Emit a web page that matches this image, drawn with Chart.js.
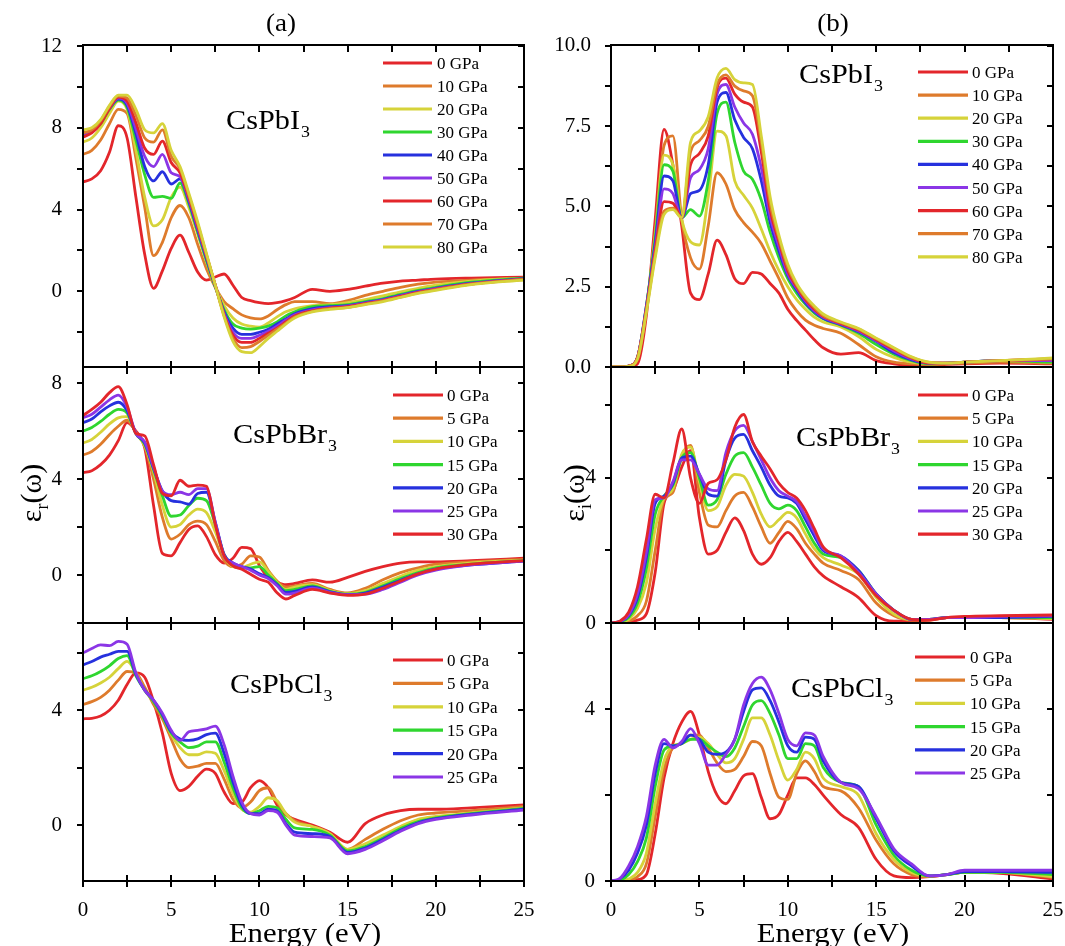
<!DOCTYPE html>
<html>
<head>
<meta charset="utf-8">
<script src="https://cdn.jsdelivr.net/npm/chart.js@4.4.1/dist/chart.umd.min.js"></script>
<style>
  html, body { margin: 0; padding: 0; background: #fff; }
  #wrap { position: relative; width: 1065px; height: 946px; }
  #wrap canvas { position: absolute; left: 0; top: 0; }
</style>
</head>
<body>
<div id="wrap">
  <canvas id="c1" width="1065" height="946"></canvas>
  <canvas id="c2" width="1065" height="946"></canvas>
  <canvas id="c3" width="1065" height="946"></canvas>
  <canvas id="c4" width="1065" height="946"></canvas>
  <canvas id="c5" width="1065" height="946"></canvas>
  <canvas id="c6" width="1065" height="946"></canvas>
</div>
<script>
// photon energy grid (eV), shared by every curve
const energy = [0,0.5,1,1.5,2,2.5,3,3.5,4,4.5,5,5.5,6,6.5,7,7.5,8,8.5,9,9.5,10,10.5,11,11.5,12,13,14,15,16,17,18,19,20,22,25]
const energyTicks = [0,2.5,5,7.5,10,12.5,15,17.5,20,22.5,25]

const pressuresI = ["0 GPa","10 GPa","20 GPa","30 GPa","40 GPa","50 GPa","60 GPa","70 GPa","80 GPa"]
const pressuresBr = ["0 GPa","5 GPa","10 GPa","15 GPa","20 GPa","25 GPa","30 GPa"]
const pressuresCl = ["0 GPa","5 GPa","10 GPa","15 GPa","20 GPa","25 GPa"]

// (a) real part, CsPbI3
const realI = [
  [5.36,5.5,5.9,6.8,8.1,7.5,4.6,1.8,0.15,1.0,2.1,2.75,1.9,0.95,0.55,0.7,0.85,0.3,-0.3,-0.45,-0.55,-0.6,-0.55,-0.45,-0.3,0.1,0.0,0.1,0.25,0.4,0.5,0.55,0.6,0.65,0.7],
  [6.7,6.9,7.4,8.2,8.9,8.7,6.5,4.1,1.75,2.4,3.6,4.2,3.6,2.3,1.1,0.2,-0.5,-0.85,-1.15,-1.3,-1.35,-1.2,-0.9,-0.65,-0.5,-0.5,-0.6,-0.45,-0.2,0.0,0.2,0.35,0.45,0.55,0.65],
  [7.3,7.5,8.0,8.7,9.3,8.9,6.9,4.6,3.2,3.5,4.6,5.1,4.1,2.8,1.45,0.25,-0.7,-1.3,-1.6,-1.7,-1.75,-1.55,-1.25,-1.0,-0.85,-0.7,-0.65,-0.55,-0.4,-0.22,-0.02,0.15,0.3,0.5,0.65],
  [7.65,7.8,8.2,8.9,9.35,9.0,7.4,5.7,4.6,4.65,4.55,5.3,4.3,2.9,1.5,0.2,-0.9,-1.6,-1.8,-1.85,-1.8,-1.7,-1.5,-1.2,-1.0,-0.75,-0.7,-0.65,-0.5,-0.35,-0.15,0.05,0.2,0.45,0.65],
  [7.7,7.85,8.3,8.95,9.4,9.1,7.7,6.1,5.4,5.85,5.25,5.5,4.4,3.0,1.6,0.25,-1.0,-1.8,-2.1,-2.1,-2.0,-1.85,-1.6,-1.35,-1.1,-0.85,-0.75,-0.7,-0.55,-0.4,-0.2,0.0,0.15,0.4,0.62],
  [7.6,7.8,8.25,8.95,9.45,9.2,7.95,6.6,6.1,6.7,5.8,5.6,4.5,3.1,1.7,0.3,-1.1,-2.0,-2.3,-2.3,-2.15,-1.95,-1.7,-1.4,-1.15,-0.9,-0.8,-0.72,-0.58,-0.42,-0.22,-0.02,0.13,0.38,0.6],
  [7.55,7.75,8.2,8.95,9.5,9.3,8.25,7.0,6.7,7.35,6.3,5.8,4.6,3.2,1.75,0.3,-1.15,-2.15,-2.5,-2.5,-2.3,-2.05,-1.8,-1.5,-1.2,-0.95,-0.82,-0.75,-0.6,-0.45,-0.25,-0.05,0.1,0.36,0.6],
  [7.75,7.9,8.35,9.05,9.55,9.45,8.6,7.5,7.3,7.9,6.6,6.0,4.7,3.3,1.8,0.3,-1.2,-2.3,-2.75,-2.7,-2.45,-2.15,-1.85,-1.55,-1.25,-0.98,-0.85,-0.78,-0.62,-0.47,-0.28,-0.08,0.08,0.35,0.58],
  [7.9,8.0,8.4,9.1,9.6,9.6,8.9,7.9,7.75,8.2,6.9,6.1,4.8,3.4,1.85,0.3,-1.25,-2.45,-2.95,-3.0,-2.7,-2.3,-1.95,-1.6,-1.3,-1.0,-0.88,-0.8,-0.65,-0.5,-0.3,-0.1,0.05,0.33,0.55]
]

// (b) imaginary part, CsPbI3
const imagI = [
  [0,0,0,0.1,1.6,4.6,7.4,6.3,4.4,2.3,2.1,2.9,3.95,3.5,2.75,2.6,2.95,2.9,2.6,2.3,1.8,1.45,1.15,0.85,0.6,0.4,0.45,0.2,0.1,0.05,0.05,0.08,0.1,0.12,0.1],
  [0,0,0.02,0.25,1.8,4.2,6.9,7.2,4.6,3.4,3.05,4.4,6.05,5.7,4.9,4.5,4.2,3.85,3.3,2.75,2.15,1.75,1.46,1.3,1.2,1.05,0.7,0.32,0.15,0.1,0.08,0.1,0.12,0.15,0.12],
  [0,0,0.03,0.3,1.85,4.1,6.6,6.3,4.6,3.9,3.8,5.3,7.35,7.2,5.8,5.35,4.95,4.3,3.6,3.0,2.5,2.1,1.8,1.55,1.4,1.25,0.95,0.55,0.3,0.15,0.1,0.12,0.15,0.2,0.15],
  [0,0,0.03,0.3,1.9,4.0,6.3,6.1,4.65,4.9,4.7,5.8,7.9,8.25,7.0,6.1,5.85,5.2,4.2,3.4,2.75,2.3,1.95,1.68,1.5,1.3,1.05,0.7,0.4,0.2,0.1,0.12,0.15,0.2,0.15],
  [0,0,0.03,0.3,1.9,3.85,5.95,5.8,4.65,5.4,5.5,6.3,8.25,8.55,7.7,7.15,6.8,5.8,4.5,3.6,2.85,2.4,2.0,1.72,1.52,1.32,1.1,0.8,0.45,0.22,0.12,0.12,0.15,0.2,0.2],
  [0,0,0.03,0.3,1.85,3.7,5.55,5.4,4.65,5.9,6.15,6.8,8.5,8.8,8.1,7.6,7.25,6.2,4.7,3.75,2.9,2.45,2.05,1.75,1.55,1.34,1.12,0.82,0.5,0.25,0.12,0.12,0.15,0.2,0.2],
  [0,0,0.03,0.3,1.8,3.6,5.15,5.1,4.65,6.3,6.65,7.2,8.7,9.0,8.5,8.25,8.1,6.7,4.9,3.9,3.0,2.5,2.1,1.8,1.58,1.36,1.15,0.85,0.55,0.28,0.12,0.12,0.15,0.2,0.25],
  [0,0,0.03,0.28,1.75,3.5,4.85,4.95,4.65,6.7,7.05,7.5,8.8,9.1,8.75,8.6,8.45,7.0,5.1,4.0,3.1,2.55,2.15,1.85,1.6,1.38,1.18,0.88,0.58,0.3,0.14,0.12,0.15,0.2,0.25],
  [0,0,0.02,0.25,1.7,3.4,4.75,4.9,4.65,7.0,7.35,7.8,9.0,9.3,8.95,8.85,8.8,7.2,5.3,4.1,3.2,2.6,2.2,1.9,1.65,1.4,1.2,0.9,0.6,0.32,0.15,0.12,0.15,0.2,0.28]
]

// real part, CsPbBr3
const realBr = [
  [4.26,4.35,4.6,5.0,5.6,6.35,6.0,5.3,2.9,0.9,0.8,1.35,1.9,2.05,1.6,0.85,0.5,0.7,1.15,1.1,0.4,-0.1,-0.3,-0.4,-0.35,-0.2,-0.3,-0.1,0.15,0.35,0.5,0.55,0.55,0.6,0.7],
  [5.0,5.15,5.45,5.85,6.2,6.45,5.95,5.35,4.0,2.4,1.5,1.7,2.1,2.25,2.1,1.4,0.6,0.35,0.45,0.8,0.75,0.2,-0.25,-0.5,-0.45,-0.35,-0.6,-0.75,-0.55,-0.2,0.1,0.3,0.45,0.55,0.65],
  [5.5,5.65,5.95,6.3,6.55,6.6,5.9,5.4,4.3,2.9,2.0,2.1,2.5,2.75,2.6,1.8,0.8,0.35,0.3,0.45,0.55,0.15,-0.3,-0.6,-0.5,-0.4,-0.65,-0.78,-0.65,-0.35,-0.05,0.2,0.35,0.5,0.62],
  [6.0,6.15,6.4,6.7,6.9,6.75,5.9,5.45,4.4,3.3,2.45,2.5,2.9,3.2,3.1,2.1,0.85,0.4,0.3,0.3,0.35,0.0,-0.35,-0.65,-0.6,-0.45,-0.68,-0.8,-0.72,-0.45,-0.15,0.1,0.3,0.45,0.6],
  [6.35,6.5,6.8,7.05,7.2,6.85,5.9,5.5,4.45,3.5,3.1,3.05,2.95,3.4,3.45,2.2,0.85,0.5,0.35,0.25,0.05,-0.1,-0.4,-0.72,-0.68,-0.5,-0.7,-0.82,-0.75,-0.5,-0.22,0.05,0.25,0.42,0.58],
  [6.55,6.7,7.0,7.3,7.5,7.0,5.9,5.55,4.5,3.5,3.35,3.45,3.35,3.6,3.6,2.2,0.8,0.5,0.35,0.2,0.0,-0.15,-0.45,-0.8,-0.75,-0.55,-0.72,-0.82,-0.8,-0.6,-0.3,0.0,0.2,0.42,0.58],
  [6.65,6.9,7.2,7.6,7.85,7.1,5.9,5.8,4.6,3.4,3.3,3.95,3.7,3.75,3.7,2.1,0.8,0.38,0.24,0.03,-0.18,-0.3,-0.74,-1.0,-0.85,-0.6,-0.75,-0.85,-0.8,-0.55,-0.25,0.05,0.25,0.45,0.6]
]

// imaginary part, CsPbBr3
const imagBr = [
  [0,0,0.02,0.08,0.25,1.4,3.3,3.65,4.3,4.75,2.9,1.9,2.0,2.5,2.9,2.55,1.9,1.62,1.8,2.25,2.5,2.25,1.9,1.55,1.3,1.0,0.7,0.2,0.05,0.05,0.08,0.15,0.15,0.15,0.1],
  [0,0,0.05,0.2,0.6,2.0,3.4,3.6,4.6,4.9,3.6,2.7,2.65,3.1,3.5,3.6,3.2,2.65,2.2,2.5,2.8,2.6,2.2,1.9,1.65,1.45,1.2,0.55,0.2,0.08,0.08,0.15,0.15,0.15,0.12],
  [0,0.02,0.1,0.4,1.1,2.6,3.45,3.7,4.65,4.85,3.9,3.1,3.2,3.8,4.1,4.05,3.6,3.0,2.65,2.85,3.05,2.9,2.45,2.05,1.8,1.6,1.35,0.7,0.25,0.1,0.1,0.15,0.15,0.15,0.12],
  [0,0.03,0.15,0.55,1.5,3.0,3.5,3.8,4.55,4.7,4.0,3.25,3.4,4.1,4.6,4.7,4.3,3.8,3.3,3.15,3.25,3.1,2.65,2.2,1.9,1.8,1.45,0.8,0.35,0.1,0.1,0.15,0.15,0.15,0.15],
  [0,0.04,0.2,0.7,1.8,3.3,3.5,3.85,4.55,4.6,4.1,3.55,3.5,4.5,5.1,5.2,4.75,4.3,3.8,3.5,3.45,3.3,2.85,2.4,2.0,1.85,1.45,0.8,0.35,0.1,0.1,0.15,0.15,0.15,0.18],
  [0,0.04,0.22,0.8,1.95,3.4,3.45,3.9,4.5,4.5,4.1,3.7,3.65,4.7,5.3,5.45,5.0,4.5,4.0,3.65,3.5,3.35,2.95,2.5,2.05,1.85,1.4,0.8,0.35,0.1,0.1,0.15,0.15,0.18,0.2],
  [0,0.05,0.3,1.0,2.3,3.55,3.45,4.4,5.35,4.0,3.3,3.85,3.95,4.5,5.4,5.75,5.0,4.6,4.25,3.85,3.6,3.45,3.1,2.6,2.1,1.8,1.35,0.75,0.35,0.1,0.08,0.15,0.18,0.2,0.22]
]

// real part, CsPbCl3
const realCl = [
  [3.7,3.72,3.8,4.0,4.35,4.9,5.3,5.15,4.3,3.2,1.8,1.2,1.35,1.7,1.95,1.8,1.15,0.75,0.8,1.3,1.55,1.3,0.7,0.35,0.2,0.0,-0.25,-0.6,0.05,0.35,0.5,0.55,0.55,0.6,0.7],
  [4.2,4.3,4.45,4.7,5.05,5.35,5.3,4.8,4.2,3.7,3.0,2.3,2.0,2.05,2.15,2.15,1.6,0.9,0.6,0.8,1.2,1.3,0.8,0.4,0.15,-0.05,-0.35,-0.85,-0.5,-0.15,0.15,0.35,0.42,0.5,0.65],
  [4.7,4.8,4.95,5.15,5.45,5.7,5.3,4.7,4.3,3.8,3.15,2.7,2.45,2.45,2.55,2.5,1.9,1.1,0.55,0.45,0.65,0.95,0.85,0.4,0.1,-0.05,-0.3,-0.85,-0.65,-0.35,-0.05,0.2,0.3,0.42,0.6],
  [5.1,5.2,5.35,5.55,5.8,5.9,5.2,4.7,4.3,3.8,3.2,2.9,2.7,2.75,2.9,2.9,2.2,1.3,0.6,0.4,0.5,0.65,0.6,0.2,-0.1,-0.15,-0.35,-0.9,-0.75,-0.45,-0.12,0.12,0.25,0.4,0.58],
  [5.58,5.7,5.85,5.95,6.05,6.05,5.25,4.7,4.35,3.85,3.25,3.0,2.95,3.0,3.15,3.2,2.5,1.5,0.7,0.4,0.4,0.55,0.5,0.05,-0.25,-0.3,-0.4,-0.95,-0.8,-0.5,-0.18,0.08,0.22,0.38,0.55],
  [6.0,6.15,6.28,6.25,6.4,6.3,5.3,4.7,4.35,3.9,3.3,2.95,3.25,3.3,3.35,3.45,2.8,1.7,0.8,0.4,0.35,0.5,0.45,0.0,-0.35,-0.4,-0.45,-1.0,-0.85,-0.55,-0.22,0.05,0.2,0.35,0.52]
]

// imaginary part, CsPbCl3
const imagCl = [
  [0,0,0,0.03,0.15,1.1,2.4,3.2,3.7,3.95,3.4,2.55,2.0,1.8,2.1,2.45,2.5,1.95,1.45,1.55,2.0,2.4,2.4,2.25,2.0,1.55,1.25,0.5,0.12,0.08,0.1,0.15,0.2,0.18,0.05],
  [0,0,0.02,0.1,0.4,1.5,2.6,3.1,3.2,3.4,3.4,3.1,2.75,2.55,2.6,2.9,3.25,3.15,2.5,1.95,1.9,2.5,2.8,2.55,2.2,2.1,1.7,0.95,0.4,0.15,0.1,0.15,0.2,0.2,0.08],
  [0,0,0.05,0.2,0.65,1.8,2.8,3.15,3.2,3.3,3.35,3.2,2.95,2.75,2.85,3.3,3.8,3.8,3.4,2.8,2.35,2.6,3.0,2.85,2.4,2.2,2.0,1.1,0.5,0.2,0.12,0.15,0.2,0.2,0.1],
  [0,0.02,0.15,0.45,1.0,2.2,3.05,3.15,3.2,3.3,3.3,3.15,3.0,2.9,3.1,3.6,4.1,4.2,3.9,3.4,2.85,2.85,3.2,3.15,2.65,2.3,2.2,1.3,0.6,0.25,0.12,0.15,0.2,0.2,0.15],
  [0,0.05,0.25,0.65,1.3,2.5,3.2,3.15,3.2,3.4,3.3,3.0,2.95,3.0,3.3,3.95,4.45,4.5,4.2,3.7,3.15,3.0,3.35,3.3,2.8,2.3,2.2,1.45,0.7,0.35,0.12,0.15,0.22,0.22,0.2],
  [0,0.06,0.35,0.8,1.5,2.7,3.3,3.1,3.25,3.55,3.2,2.7,2.7,2.95,3.3,4.1,4.6,4.75,4.45,3.9,3.3,3.15,3.45,3.4,2.9,2.3,2.15,1.5,0.75,0.4,0.12,0.15,0.25,0.25,0.25]
]

const RED = "#e3262b", ORANGE = "#de7b2c", YELLOW = "#d6d33a"
const GREEN = "#2fd62f", BLUE = "#2631de", PURPLE = "#8b36e6"
const palette = [RED, ORANGE, YELLOW, GREEN, BLUE, PURPLE, RED, ORANGE, YELLOW]

const SERIF = '"Liberation Serif", "Times New Roman", serif'
const W = 1065, H = 946

function isMult(v, s) {
  return Math.abs(v / s - Math.round(v / s)) < 1e-6
}

function yTickValues(p) {
  const out = []
  for (let v = p.tickStart; v <= p.yMax + 1e-9; v += p.tickStep) {
    if (v >= p.yMin - 1e-9) out.push(Math.round(v * 1000) / 1000)
  }
  return out
}

// text with a horizontal stretch, the figure's lettering is a bit wide
function stretchText(ctx, txt, x, y, size, sx, align) {
  ctx.save()
  ctx.font = size + "px " + SERIF
  const w = ctx.measureText(txt).width * sx
  let x0 = x
  if (align === "center") x0 = x - w / 2
  ctx.translate(x0, y)
  ctx.scale(sx, 1)
  ctx.textAlign = "left"
  ctx.textBaseline = "alphabetic"
  ctx.fillText(txt, 0, 0)
  ctx.restore()
  return w
}

function drawFormula(ctx, f) {
  const w = stretchText(ctx, f.base, f.x, f.y, 27, 1.12, "left")
  stretchText(ctx, f.sub, f.x + w + 1, f.y + 8, 17, 1.05, "left")
}

function drawYTitle(ctx, t) {
  ctx.save()
  ctx.translate(t.x, t.y)
  ctx.rotate(-Math.PI / 2)
  ctx.fillStyle = "#000"
  ctx.textBaseline = "alphabetic"
  ctx.textAlign = "left"
  const big = "30px " + SERIF, small = "18px " + SERIF
  ctx.font = big
  const w1 = ctx.measureText("ε").width
  const w3 = ctx.measureText("(ω)").width
  ctx.font = small
  const w2 = ctx.measureText(t.sub).width
  let x = -(w1 + w2 + w3) / 2
  ctx.font = big
  ctx.fillText("ε", x, 10)
  x += w1
  ctx.font = small
  ctx.fillText(t.sub, x, 17)
  x += w2
  ctx.font = big
  ctx.fillText("(ω)", x, 10)
  ctx.restore()
}

function panelPlugin(p) {
  return {
    id: "panel_" + p.canvas,
    afterDatasetsDraw(chart) {
      const { ctx, chartArea: a } = chart
      const xs = chart.scales.x, ys = chart.scales.y
      ctx.save()
      ctx.strokeStyle = "#000"
      ctx.fillStyle = "#000"
      ctx.lineWidth = 2
      ctx.strokeRect(a.left, a.top, a.right - a.left, a.bottom - a.top)
      ctx.beginPath()
      energyTicks.forEach((e) => {
        const px = Math.round(xs.getPixelForValue(e))
        ctx.moveTo(px, a.top)
        ctx.lineTo(px, a.top + 7)
        ctx.moveTo(px, a.bottom - 6)
        ctx.lineTo(px, a.bottom + 6)
      })
      yTickValues(p).forEach((v) => {
        const py = Math.round(ys.getPixelForValue(v))
        ctx.moveTo(a.left - 6, py)
        ctx.lineTo(a.left, py)
        ctx.moveTo(a.right - 6, py)
        ctx.lineTo(a.right, py)
      })
      ctx.stroke()

      // legend
      const lg = p.legend
      chart.data.datasets.forEach((ds, i) => {
        const y = lg.y0 + i * lg.dy
        ctx.strokeStyle = ds.borderColor
        ctx.lineWidth = 3.2
        ctx.beginPath()
        ctx.moveTo(lg.x1, y)
        ctx.lineTo(lg.x2, y)
        ctx.stroke()
        ctx.fillStyle = "#000"
        stretchText(ctx, ds.label, lg.tx, y + 6, 17, 1.0, "left")
      })

      ctx.fillStyle = "#000"
      drawFormula(ctx, p.formula)
      if (p.title) stretchText(ctx, p.title.text, p.title.x, p.title.y, 25, 1.08, "center")
      if (p.xTitle) stretchText(ctx, "Energy (eV)", p.xTitle.x, p.xTitle.y, 28, 1.1, "center")
      if (p.yTitle) drawYTitle(ctx, p.yTitle)
      ctx.restore()
    }
  }
}

function makeChart(p) {
  const yW = 60
  const xH = p.showX ? 50 : 0
  const datasets = p.series.map((vals, i) => ({
    label: p.labels[i],
    data: energy.map((e, k) => ({ x: e, y: vals[k] })),
    borderColor: palette[i],
    borderWidth: 2.8,
    pointRadius: 0,
    fill: false,
    cubicInterpolationMode: "monotone",
    order: -i
  }))
  new Chart(document.getElementById(p.canvas), {
    type: "line",
    data: { datasets },
    options: {
      responsive: false,
      animation: false,
      events: [],
      layout: {
        padding: {
          left: p.area.left - yW,
          top: p.area.top,
          right: W - p.area.right,
          bottom: H - p.area.bottom - xH
        }
      },
      scales: {
        x: {
          type: "linear", min: 0, max: 25,
          grid: { display: false }, border: { display: false },
          afterBuildTicks: (s) => { s.ticks = energyTicks.map((v) => ({ value: v })) },
          ticks: {
            display: p.showX, autoSkip: false, maxRotation: 0,
            padding: 9, color: "#000", font: { family: SERIF, size: 21 },
            callback: (v) => (isMult(v, 5) ? String(v) : "")
          },
          afterFit: (s) => { s.height = xH; s.paddingLeft = 0; s.paddingRight = 0 }
        },
        y: {
          type: "linear", min: p.yMin, max: p.yMax,
          grid: { display: false }, border: { display: false },
          afterBuildTicks: (s) => { s.ticks = yTickValues(p).map((v) => ({ value: v })) },
          ticks: {
            autoSkip: false, padding: p.labelPad,
            color: "#000", font: { family: SERIF, size: 21 },
            callback: (v) => (isMult(v, p.labelStep) ? Number(v).toFixed(p.decimals) : "")
          },
          afterFit: (s) => { s.width = yW; s.paddingTop = 0; s.paddingBottom = 0 }
        }
      },
      plugins: { legend: { display: false }, tooltip: { enabled: false } }
    },
    plugins: [panelPlugin(p)]
  })
}

const panels = [
  { canvas: "c1", area: { left: 83, top: 45, right: 524, bottom: 367 },
    yMin: -3.7, yMax: 12.05, tickStart: -2, tickStep: 2, labelStep: 4, decimals: 0, labelPad: 13,
    series: realI, labels: pressuresI, showX: false,
    legend: { x1: 383, x2: 432, tx: 437, y0: 63, dy: 23 },
    formula: { base: "CsPbI", sub: "3", x: 226, y: 129 },
    title: { text: "(a)", x: 281, y: 31 } },
  { canvas: "c2", area: { left: 611, top: 45, right: 1053, bottom: 367 },
    yMin: 0, yMax: 10.03, tickStart: 0, tickStep: 1.25, labelStep: 2.5, decimals: 1, labelPad: 12,
    series: imagI, labels: pressuresI, showX: false,
    legend: { x1: 918, x2: 968, tx: 972, y0: 72, dy: 23.1 },
    formula: { base: "CsPbI", sub: "3", x: 799, y: 83 },
    title: { text: "(b)", x: 833, y: 31 } },
  { canvas: "c3", area: { left: 83, top: 367, right: 524, bottom: 623 },
    yMin: -2, yMax: 8.67, tickStart: -2, tickStep: 2, labelStep: 4, decimals: 0, labelPad: 13,
    series: realBr, labels: pressuresBr, showX: false,
    legend: { x1: 393, x2: 443, tx: 447, y0: 395, dy: 23.2 },
    formula: { base: "CsPbBr", sub: "3", x: 233, y: 443 },
    yTitle: { sub: "r", x: 31, y: 493 } },
  { canvas: "c4", area: { left: 611, top: 367, right: 1053, bottom: 623 },
    yMin: 0, yMax: 7.06, tickStart: 0, tickStep: 2, labelStep: 4, decimals: 0, labelPad: 7,
    series: imagBr, labels: pressuresBr, showX: false,
    legend: { x1: 918, x2: 968, tx: 972, y0: 395, dy: 23.2 },
    formula: { base: "CsPbBr", sub: "3", x: 796, y: 446 },
    yTitle: { sub: "i", x: 574, y: 493 } },
  { canvas: "c5", area: { left: 83, top: 623, right: 524, bottom: 881 },
    yMin: -1.95, yMax: 7.04, tickStart: 0, tickStep: 2, labelStep: 4, decimals: 0, labelPad: 13,
    series: realCl, labels: pressuresCl, showX: true,
    legend: { x1: 393, x2: 443, tx: 447, y0: 660, dy: 23.4 },
    formula: { base: "CsPbCl", sub: "3", x: 230, y: 693 },
    xTitle: { x: 305, y: 942 } },
  { canvas: "c6", area: { left: 611, top: 623, right: 1053, bottom: 881 },
    yMin: 0, yMax: 6.01, tickStart: 0, tickStep: 2, labelStep: 4, decimals: 0, labelPad: 8,
    series: imagCl, labels: pressuresCl, showX: true,
    legend: { x1: 915, x2: 965, tx: 970, y0: 657, dy: 23.2 },
    formula: { base: "CsPbCl", sub: "3", x: 791, y: 697 },
    xTitle: { x: 833, y: 942 } }
]

panels.forEach(makeChart)
</script>
</body>
</html>
